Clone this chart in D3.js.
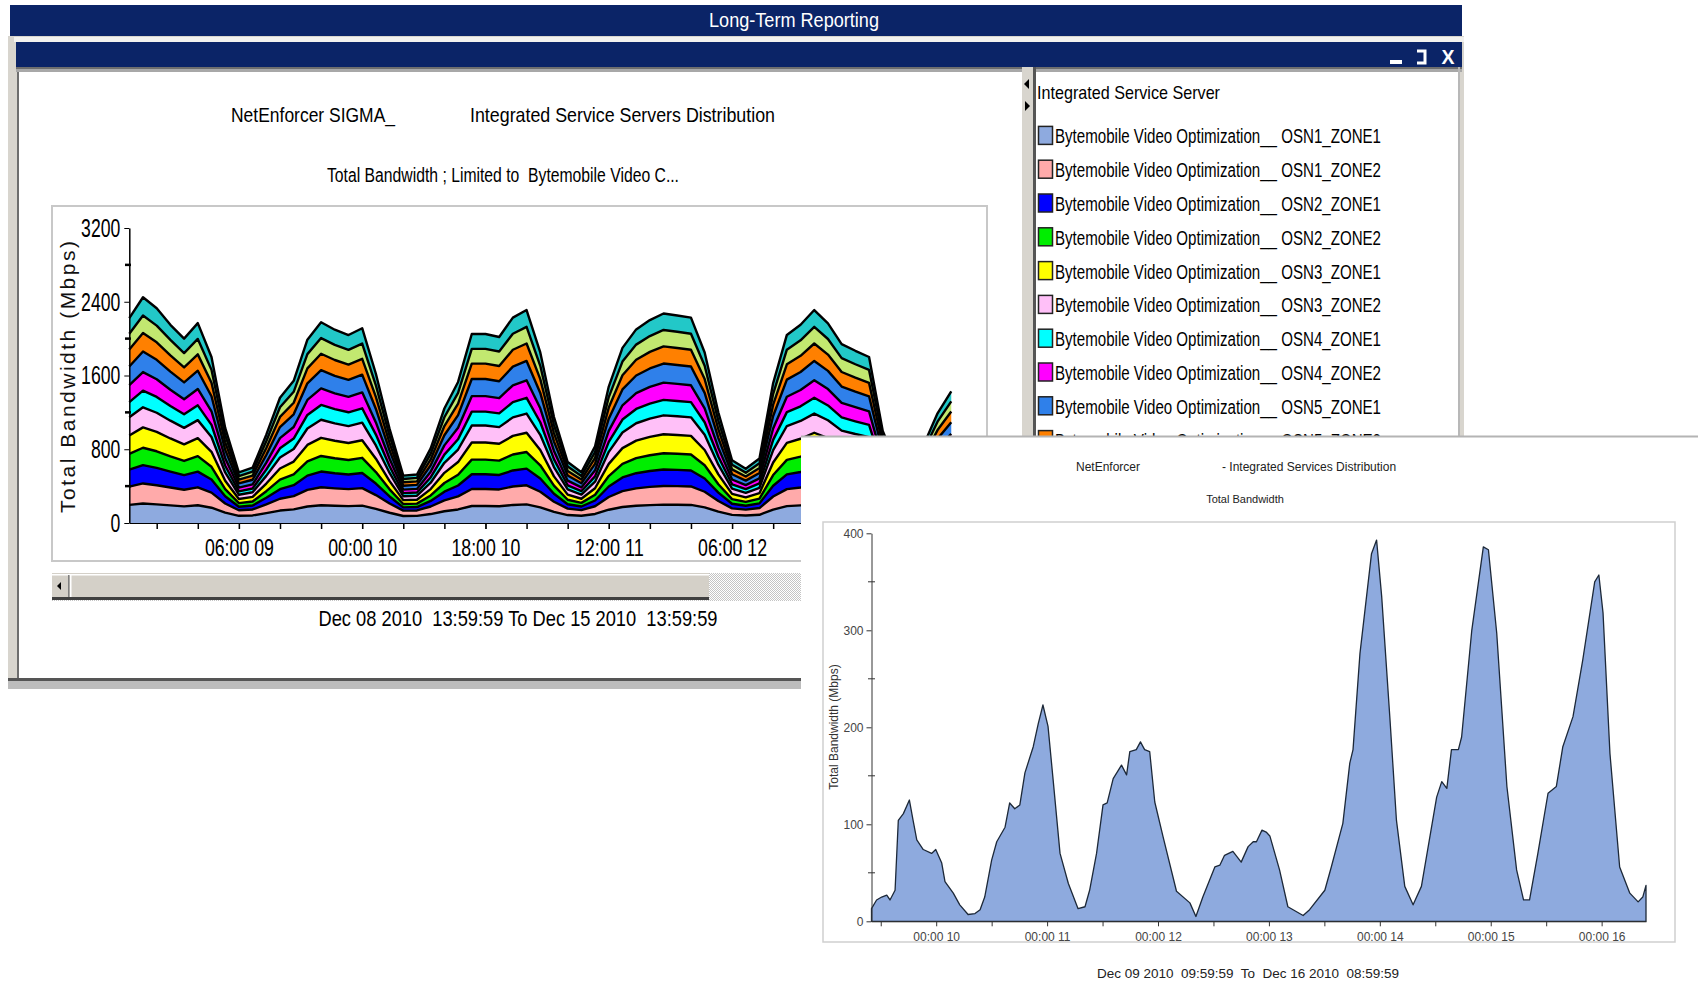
<!DOCTYPE html>
<html lang="en">
<head>
  <meta charset="UTF-8" />
  <title>Long-Term Reporting</title>
  <script src="https://d3js.org/d3.v7.min.js"></script>
  <style>
    body { margin: 0; background: #fff; }
    svg { display: block; }
    text { font-family: "Liberation Sans", Arial, sans-serif; }
    .pre { white-space: pre; }
  </style>
</head>
<body>
<script>
// ---------- left chart (stacked) data: hours after Dec 08 2010 14:00 ----------
var leftHours = [0,2,4,6,8,10,12,14,16,18,20,22,24,26,28,30,32,34,36,38,40,42,44,46,48,50,52,54,56,58,
  60,62,64,66,68,70,72,74,76,78,80,82,84,86,88,90,92,94,96,98,100,102,104,106,108,110,112,114,116,118,120];

var osn1z1 = [196,211,202,191,180,192,166,112,78,82,107,135,148,179,192,187,183,188,153,111,76,77,97,127,147,184,184,181,196,202,170,121,86,79,98,144,173,187,194,199,198,196,170,124,88,81,89,146,183,191,202,192,176,171,166,110,85,78,100,123,140];
var osn1z2 = [199,218,208,194,181,195,164,100,60,65,95,128,143,180,196,189,184,190,150,100,58,59,82,118,142,185,185,183,200,207,169,110,70,61,84,138,173,189,198,203,202,200,169,115,71,64,73,141,185,194,207,195,176,170,164,98,68,60,86,114,134];
var osn2z1 = [184,199,188,172,158,170,141,78,39,43,72,104,119,155,170,164,159,165,125,77,36,37,60,95,118,160,160,157,174,181,144,87,48,39,62,114,148,164,172,178,176,174,144,91,50,42,51,117,159,168,181,169,151,145,140,75,46,38,63,91,110];
var osn2z2 = [170,188,180,166,154,168,139,78,39,43,71,103,118,154,169,163,158,164,124,77,36,37,60,94,117,159,159,156,173,180,143,87,48,39,62,113,147,163,171,177,175,173,143,91,50,42,51,116,158,167,180,168,150,144,139,75,46,38,63,90,109];
var osn3z1 = [201,221,210,194,180,196,162,90,45,50,83,121,138,179,197,189,184,191,145,89,42,43,69,110,137,185,185,182,202,209,166,101,56,45,71,132,171,190,199,206,204,202,166,106,57,49,59,136,184,194,209,196,175,168,162,87,54,44,73,105,127];
var osn3z2 = [198,218,208,193,179,195,161,90,45,50,83,120,137,178,196,188,183,190,144,89,42,43,69,109,136,184,184,181,201,208,165,101,56,45,71,131,170,189,198,205,203,201,165,106,57,49,59,135,183,193,208,195,174,167,161,87,54,44,73,104,126];
var osn4z1 = [164,181,172,159,147,160,132,73,37,41,68,99,113,147,161,155,150,156,118,73,34,35,57,89,112,151,151,149,165,171,136,83,45,37,58,108,140,155,163,168,166,165,136,86,47,40,48,111,151,159,171,160,143,138,132,71,44,36,60,86,104];
var osn4z2 = [183,201,191,177,164,178,147,82,41,45,76,110,125,163,179,172,167,173,132,81,38,39,63,100,124,168,168,166,183,190,151,92,50,41,65,120,155,172,181,187,185,183,151,96,52,44,54,123,167,177,190,178,159,153,147,79,49,40,67,95,116];
var osn5z1 = [203,223,211,196,182,198,163,90,45,50,83,121,138,180,198,190,185,192,146,89,42,43,69,110,137,186,186,183,203,210,167,101,56,45,71,132,172,191,200,207,205,203,167,106,57,49,59,136,185,195,210,197,176,169,163,87,54,44,73,105,127];
var osn5z2 = [183,200,190,176,163,177,146,82,41,45,76,110,125,162,178,171,166,172,131,81,38,39,63,100,124,167,167,165,182,189,150,92,50,41,65,120,154,171,180,186,184,182,150,96,52,44,54,123,166,176,189,177,158,152,146,79,49,40,67,95,116];
var osn6z1 = [172,190,181,168,155,168,140,78,39,43,72,104,119,155,170,164,159,165,125,77,36,37,60,95,118,160,160,157,174,181,144,87,48,39,62,114,148,164,172,178,176,174,144,91,50,42,51,117,159,168,181,169,151,145,140,75,46,38,63,91,110];
var osn6z2 = [169,199,188,164,157,171,139,79,39,43,72,104,119,157,171,165,161,167,126,77,36,37,60,95,118,161,161,158,175,182,145,87,48,39,62,114,149,165,173,179,177,175,145,91,50,42,51,117,160,169,182,170,152,146,141,75,46,38,63,91,110];

var seriesNames = ["OSN1_ZONE1","OSN1_ZONE2","OSN2_ZONE1","OSN2_ZONE2","OSN3_ZONE1","OSN3_ZONE2",
  "OSN4_ZONE1","OSN4_ZONE2","OSN5_ZONE1","OSN5_ZONE2","OSN6_ZONE1","OSN6_ZONE2"];
var seriesColors = ["#8eaadf","#ffaaaa","#0000ff","#00ee00","#ffff00","#ffc0f8",
  "#00ffff","#ff00ff","#2f80ea","#ff8000","#c2e870","#22c8c8"];
var leftSeries = [osn1z1,osn1z2,osn2z1,osn2z2,osn3z1,osn3z2,osn4z1,osn4z2,osn5z1,osn5z2,osn6z1,osn6z2];
var legendShown = 10;   // rows of the legend list that are not under the second window

var leftYTicks = [0, 800, 1600, 2400, 3200];
var leftYMinor = [400, 1200, 2000, 2800];
var leftXLabelHours = [16, 34, 52, 70, 88];   // 06:00 09, 00:00 10, 18:00 10, 12:00 11, 06:00 12
var leftXMinorHours = [4,10,16,22,28,34,40,46,52,58,64,70,76,82,88,94,100,106,112,118,124];

// ---------- right chart data: hours after Dec 09 2010 10:00 ----------
var rightHours = [0,1.1,2.2,3.3,4,5.1,5.8,6.9,8.2,9,9.8,11.2,13,13.9,15.2,15.9,17.7,19.1,20.9,22.4,23.5,24.5,26,27.1,28.9,29.9,31,32.1,33.2,35,36.1,37.1,38.2,39.3,40.8,42.6,44.7,46.2,47.2,48.7,50.1,51,52.3,54.1,55.2,55.9,57.3,58.2,59.1,60.2,61.3,63.1,66,68.9,70.2,71.7,74.3,75.4,76.4,78.2,80,81.5,82.6,83.3,84.5,85.4,86.2,88.3,90.1,93.4,94.8,98.1,99.5,102,103.5,104.2,105.7,108.2,109.3,110.4,112.2,113.6,115.4,117.2,119,122.3,123.4,124.5,125.5,127,127.7,129.9,132.4,133.5,135.3,137.5,139.6,141.1,142.4,144.2,146.4,148.2,149.6,151.8,153.9,156.5,157.4,158.3,159.8,161.9,164.1,165.9,166.9,167.6];
var rightValues = [13,22,25,27,22,32,104,111,125,104,84,74,70,74,60,41,29,17,7,8,12,25,63,82,97,122,116,120,153,180,204,223,201,146,70,39,13,15,32,70,120,122,147,161,151,175,177,185,177,175,123,87,31,19,5,25,56,58,68,72,61,77,82,82,94,92,88,53,15,6,12,32,56,101,163,177,276,379,393,335,208,104,36,17,36,128,144,137,177,177,190,300,386,383,297,139,53,22,22,70,132,139,180,211,269,350,357,318,173,56,29,20,25,37];
var rightYTicks = [0, 100, 200, 300, 400];
var rightYMinor = [50, 150, 250, 350];
var rightXTickHours = [2, 14, 26, 38, 50, 62, 74, 86, 98, 110, 122, 134, 146, 158];

// ---------- helpers ----------
var leftStart = new Date(2010, 11, 8, 14, 0);
var rightStart = new Date(2010, 11, 9, 10, 0);
function addHours(base, h) { return new Date(base.getTime() + h * 3600000); }
function squeeze(sel, w) { sel.attr("textLength", w).attr("lengthAdjust", "spacingAndGlyphs"); }
var navy = "#0b2467";

var svg = d3.select("body").append("svg").attr("width", 1698).attr("height", 990);
var defs = svg.append("defs");
var pat = defs.append("pattern").attr("id", "dots").attr("width", 2).attr("height", 2)
  .attr("patternUnits", "userSpaceOnUse");
pat.append("rect").attr("width", 2).attr("height", 2).attr("fill", "#ffffff");
pat.append("rect").attr("width", 1).attr("height", 1).attr("fill", "#c4c4c4");
pat.append("rect").attr("x", 1).attr("y", 1).attr("width", 1).attr("height", 1).attr("fill", "#c4c4c4");
defs.append("clipPath").attr("id", "legendClip")
  .append("rect").attr("x", 1036).attr("y", 72).attr("width", 423).attr("height", 364);

// ---------- window chrome ----------
svg.append("rect").attr("x", 10).attr("y", 5).attr("width", 1452).attr("height", 31).attr("fill", navy);
svg.append("text").attr("x", 794).attr("y", 27).attr("text-anchor", "middle").attr("fill", "#fff")
  .style("font-size", "20px").text("Long-Term Reporting").call(squeeze, 170);

svg.append("rect").attr("x", 8).attr("y", 36).attr("width", 1456).attr("height", 653).attr("fill", "#d8d5ce");
svg.append("rect").attr("x", 14).attr("y", 37).attr("width", 1450).attr("height", 5).attr("fill", "#f2f1ee");
svg.append("rect").attr("x", 16).attr("y", 42).attr("width", 1446).attr("height", 25).attr("fill", navy);
svg.append("rect").attr("x", 1390).attr("y", 60).attr("width", 12).attr("height", 4).attr("fill", "#fff");
svg.append("path").attr("d", "M1417,51 h8 v12 h-8").attr("fill", "none").attr("stroke", "#fff").attr("stroke-width", 3);
svg.append("text").attr("x", 1448).attr("y", 64).attr("text-anchor", "middle").attr("fill", "#fff")
  .style("font-size", "20px").style("font-weight", "bold").text("X").call(squeeze, 13);

svg.append("rect").attr("x", 16).attr("y", 67).attr("width", 1446).attr("height", 2).attr("fill", "#6e6e6e");
svg.append("rect").attr("x", 16).attr("y", 69).attr("width", 1446).attr("height", 3).attr("fill", "#a8a8a8");
svg.append("rect").attr("x", 17).attr("y", 72).attr("width", 2).attr("height", 606).attr("fill", "#6e6e6e");
svg.append("rect").attr("x", 19).attr("y", 72).attr("width", 1003).attr("height", 606).attr("fill", "#fff");

// splitter + legend panel
svg.append("rect").attr("x", 1022).attr("y", 67).attr("width", 13).attr("height", 622).attr("fill", "#d8d5ce");
svg.append("rect").attr("x", 1033).attr("y", 67).attr("width", 3).attr("height", 622).attr("fill", "#555");
svg.append("path").attr("d", "M1024,84 l5,-5 v10 z").attr("fill", "#000");
svg.append("path").attr("d", "M1030,106 l-5,-5 v10 z").attr("fill", "#000");
svg.append("rect").attr("x", 1036).attr("y", 72).attr("width", 423).attr("height", 617).attr("fill", "#fff");
svg.append("rect").attr("x", 1458).attr("y", 67).attr("width", 2).attr("height", 622).attr("fill", "#b8b8b8");

svg.append("text").attr("x", 1037).attr("y", 99).style("font-size", "19px").attr("fill", "#000")
  .text("Integrated Service Server").call(squeeze, 183);
var legendItems = svg.append("g").attr("clip-path", "url(#legendClip)")
  .selectAll("g").data(seriesNames.slice(0, legendShown)).join("g")
  .attr("transform", function (d, i) { return "translate(0," + (135.4 + i * 33.8) + ")"; });
legendItems.append("rect").attr("x", 1038.5).attr("y", -9).attr("width", 14).attr("height", 18)
  .attr("fill", function (d, i) { return seriesColors[i]; }).attr("stroke", "#222").attr("stroke-width", 1.5);
legendItems.append("text").attr("x", 1055).attr("y", 8).style("font-size", "20px").attr("fill", "#000")
  .text(function (d) { return "Bytemobile Video Optimization__ " + d; }).call(squeeze, 326);

// bottom border of left window
svg.append("rect").attr("x", 8).attr("y", 678).attr("width", 1456).attr("height", 3).attr("fill", "#555");
svg.append("rect").attr("x", 8).attr("y", 681).attr("width", 1456).attr("height", 8).attr("fill", "#bdbdbd");

// ---------- left chart ----------
svg.append("text").attr("x", 231).attr("y", 122).style("font-size", "21px").text("NetEnforcer SIGMA_").call(squeeze, 164);
svg.append("text").attr("x", 470).attr("y", 122).style("font-size", "21px").text("Integrated Service Servers Distribution").call(squeeze, 305);
svg.append("text").attr("x", 327).attr("y", 182).style("font-size", "20px").attr("class", "pre")
  .text("Total Bandwidth ; Limited to  Bytemobile Video C...").call(squeeze, 352);

svg.append("rect").attr("x", 52).attr("y", 206).attr("width", 935).attr("height", 355)
  .attr("fill", "#fff").attr("stroke", "#c8c8c8").attr("stroke-width", 2);

var xL = d3.scaleTime().domain([leftStart, addHours(leftStart, 125)]).range([129.3, 985.5]);
var yL = d3.scaleLinear().domain([0, 3200]).range([523, 228]);

var leftRows = leftHours.map(function (h, i) {
  var row = { date: addHours(leftStart, h) };
  seriesNames.forEach(function (n, k) { row[n] = leftSeries[k][i]; });
  return row;
});
var stacked = d3.stack().keys(seriesNames)(leftRows);

var plotL = svg.append("g");
plotL.selectAll("path.layer").data(stacked).join("path").attr("class", "layer")
  .attr("fill", function (d, i) { return seriesColors[i]; })
  .attr("d", d3.area().x(function (d) { return xL(d.data.date); })
    .y0(function (d) { return yL(d[0]); }).y1(function (d) { return yL(d[1]); }));
plotL.selectAll("path.edge").data(stacked).join("path").attr("class", "edge")
  .attr("fill", "none").attr("stroke", "#000").attr("stroke-width", 2.4).attr("stroke-linejoin", "round")
  .attr("d", d3.line().x(function (d) { return xL(d.data.date); }).y(function (d) { return yL(d[1]); }));

var yAxisL = svg.append("g").attr("transform", "translate(129.3,0)")
  .call(d3.axisLeft(yL).tickValues(leftYTicks).tickFormat(d3.format("d"))
    .tickSize(5).tickSizeOuter(0).tickPadding(4));
yAxisL.select(".domain").attr("stroke", "#000").attr("stroke-width", 1.5);
yAxisL.selectAll("text").style("font-size", "26px").attr("fill", "#000")
  .each(function (d) { d3.select(this).call(squeeze, String(d).length * 9.8); });
svg.append("g").selectAll("line").data(leftYMinor).join("line")
  .attr("x1", 125).attr("x2", 131).attr("y1", function (d) { return yL(d); }).attr("y2", function (d) { return yL(d); })
  .attr("stroke", "#000").attr("stroke-width", 2.5);

var xAxisL = svg.append("g").attr("transform", "translate(0,523)")
  .call(d3.axisBottom(xL).tickValues(leftXLabelHours.map(function (h) { return addHours(leftStart, h); }))
    .tickFormat(d3.timeFormat("%H:%M %d")).tickSize(6).tickSizeOuter(0).tickPadding(10));
xAxisL.select(".domain").attr("stroke", "#000");
xAxisL.selectAll("text").style("font-size", "24px").attr("fill", "#000").call(squeeze, 69);
svg.append("g").attr("transform", "translate(0,523)")
  .call(d3.axisBottom(xL).tickValues(leftXMinorHours.map(function (h) { return addHours(leftStart, h); }))
    .tickFormat("").tickSize(6).tickSizeOuter(0))
  .call(function (g) { g.select(".domain").remove(); g.selectAll("line").attr("stroke-width", 1.5); });

svg.append("text").attr("transform", "translate(75,377) rotate(-90)").attr("text-anchor", "middle")
  .style("font-size", "21px").attr("fill", "#111").text("Total Bandwidth (Mbps)")
  .attr("textLength", 272).attr("lengthAdjust", "spacing");

// scrollbar
svg.append("rect").attr("x", 52).attr("y", 573).attr("width", 760).attr("height", 28).attr("fill", "url(#dots)");
svg.append("rect").attr("x", 52).attr("y", 573).attr("width", 657).attr("height", 27).attr("fill", "#d4d0c8");
svg.append("rect").attr("x", 52).attr("y", 574).attr("width", 657).attr("height", 1.5).attr("fill", "#fff");
svg.append("rect").attr("x", 52).attr("y", 597).attr("width", 657).attr("height", 3).attr("fill", "#404040");
svg.append("rect").attr("x", 70).attr("y", 575).attr("width", 1.5).attr("height", 22).attr("fill", "#fff");
svg.append("rect").attr("x", 68).attr("y", 575).attr("width", 1.5).attr("height", 22).attr("fill", "#808080");
svg.append("path").attr("d", "M57,586 l4,-4 v8 z").attr("fill", "#000");

svg.append("text").attr("x", 518).attr("y", 626).attr("text-anchor", "middle").style("font-size", "22px")
  .attr("class", "pre").text("Dec 08 2010  13:59:59 To Dec 15 2010  13:59:59").call(squeeze, 399);

// ---------- right overlay chart ----------
svg.append("rect").attr("x", 801).attr("y", 436).attr("width", 897).attr("height", 554).attr("fill", "#fff");
svg.append("line").attr("x1", 801).attr("x2", 1698).attr("y1", 436.5).attr("y2", 436.5)
  .attr("stroke", "#b4b4b4").attr("stroke-width", 2);

svg.append("text").attr("x", 1076).attr("y", 471).style("font-size", "12px").attr("fill", "#222").text("NetEnforcer");
svg.append("text").attr("x", 1222).attr("y", 471).style("font-size", "12px").attr("fill", "#222")
  .text("- Integrated Services Distribution");
svg.append("text").attr("x", 1245).attr("y", 503).attr("text-anchor", "middle").style("font-size", "11px")
  .attr("fill", "#222").text("Total Bandwidth");

svg.append("rect").attr("x", 823).attr("y", 522).attr("width", 852).attr("height", 420)
  .attr("fill", "none").attr("stroke", "#cfcfcf").attr("stroke-width", 1.5);

var xR = d3.scaleTime().domain([rightStart, addHours(rightStart, 167.6)]).range([871.5, 1646]);
var yR = d3.scaleLinear().domain([0, 400]).range([921.3, 533.3]);

svg.append("path").datum(rightHours)
  .attr("fill", "#8eaade").attr("stroke", "#1c2838").attr("stroke-width", 1.3).attr("stroke-linejoin", "round")
  .attr("d", d3.area().x(function (h) { return xR(addHours(rightStart, h)); })
    .y0(yR(0)).y1(function (h, i) { return yR(rightValues[i]); }));

var yAxisR = svg.append("g").attr("transform", "translate(871.5,0)")
  .call(d3.axisLeft(yR).tickValues(rightYTicks).tickSize(5).tickSizeOuter(0).tickPadding(3));
yAxisR.selectAll("text").style("font-size", "12px").attr("fill", "#444");
yAxisR.selectAll("line, .domain").attr("stroke", "#333");
svg.append("g").selectAll("line").data(rightYMinor).join("line")
  .attr("x1", 868).attr("x2", 875).attr("y1", function (d) { return yR(d); }).attr("y2", function (d) { return yR(d); })
  .attr("stroke", "#333");

var xAxisR = svg.append("g").attr("transform", "translate(0,921.3)")
  .call(d3.axisBottom(xR).tickValues(rightXTickHours.map(function (h) { return addHours(rightStart, h); }))
    .tickFormat(function (d) { return d.getHours() === 0 ? d3.timeFormat("%H:%M %d")(d) : ""; })
    .tickSize(5).tickSizeOuter(0).tickPadding(6));
xAxisR.selectAll("text").style("font-size", "12px").attr("fill", "#444");
xAxisR.selectAll("line, .domain").attr("stroke", "#333");

svg.append("text").attr("transform", "translate(838,727) rotate(-90)").attr("text-anchor", "middle")
  .style("font-size", "12px").attr("fill", "#333").text("Total Bandwidth (Mbps)");
svg.append("text").attr("x", 1248).attr("y", 978).attr("text-anchor", "middle").style("font-size", "12px")
  .attr("fill", "#222").attr("class", "pre").text("Dec 09 2010  09:59:59  To  Dec 16 2010  08:59:59")
  .call(squeeze, 302);
</script>
</body>
</html>
